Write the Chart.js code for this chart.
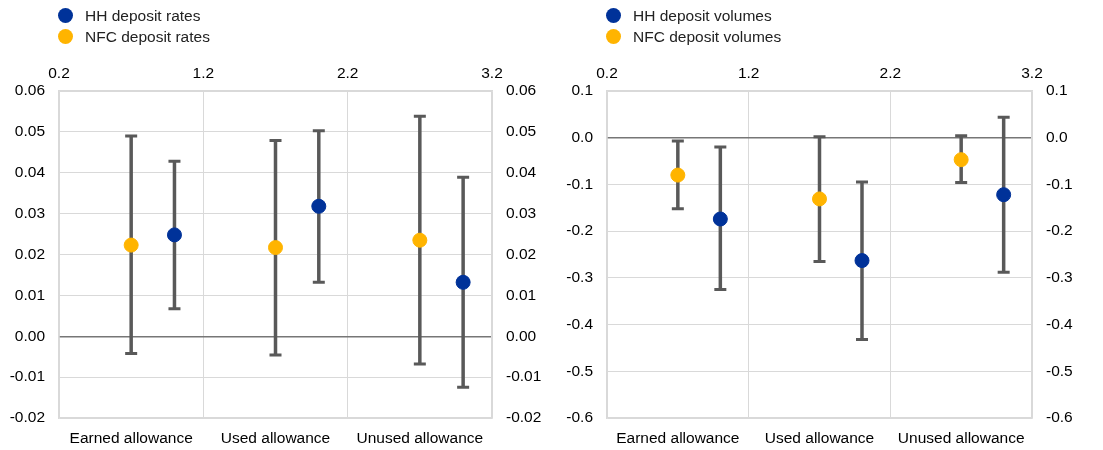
<!DOCTYPE html>
<html>
<head>
<meta charset="utf-8">
<script src="https://cdn.jsdelivr.net/npm/chart.js@4/dist/chart.umd.min.js"></script>
<style>
  body { margin: 0; background: #fff; font-family: "Liberation Sans", Arial, sans-serif; }
  .wrap { position: absolute; top: 0; height: 450px; }
  .legend { position: absolute; top: 5px; font-size: 15.5px; color: #222; }
  .legend div { height: 21px; line-height: 21px; position: relative; padding-left: 27px; }
  .legend span.dot { position: absolute; left: 0; top: 3px; width: 15px; height: 15px; border-radius: 50%; }
</style>
</head>
<body>
<div class="wrap" style="left:0;width:550px">
  <canvas id="chartRates"></canvas>
</div>
<div class="legend" style="left:58px" id="legRates"></div>
<div class="wrap" style="left:550px;width:553px">
  <canvas id="chartVolumes"></canvas>
</div>
<div class="legend" style="left:606px" id="legVolumes"></div>
<script>
// categories and positions on the top (numeric) axis
const categories = ["Earned allowance", "Used allowance", "Unused allowance"];
const hhX = [1.0, 2.0, 3.0];
const nfcX = [0.7, 1.7, 2.7];

// left panel: deposit rates
const hhRate = [0.0248, 0.0318, 0.0132];
const hhRateLow = [0.0067, 0.0132, -0.0125];
const hhRateHigh = [0.0428, 0.0503, 0.0389];
const nfcRate = [0.0223, 0.0217, 0.0235];
const nfcRateLow = [-0.0042, -0.0046, -0.0068];
const nfcRateHigh = [0.0490, 0.0479, 0.0538];

// right panel: deposit volumes
const hhVol = [-0.174, -0.263, -0.122];
const hhVolLow = [-0.325, -0.432, -0.288];
const hhVolHigh = [-0.020, -0.095, 0.044];
const nfcVol = [-0.080, -0.131, -0.047];
const nfcVolLow = [-0.152, -0.265, -0.096];
const nfcVolHigh = [-0.007, 0.002, 0.004];

const BLUE = "#003299";
const YELLOW = "#FFB400";
const BAR = "#595959";
const GRID = "#d9d9d9";

// draws the error bars behind the points
const errorBars = {
    id: "errorBars",
    beforeDatasetsDraw(chart) {
        const ctx = chart.ctx;
        const xs = chart.scales.x;
        const ys = chart.scales.y;
        ctx.save();
        ctx.strokeStyle = BAR;
        chart.data.datasets.forEach(function (ds) {
            ds.data.forEach(function (p, i) {
                const px = xs.getPixelForValue(p.x);
                const yl = ys.getPixelForValue(ds.errLow[i]);
                const yh = ys.getPixelForValue(ds.errHigh[i]);
                ctx.lineWidth = 3.5;
                ctx.beginPath();
                ctx.moveTo(px, yl);
                ctx.lineTo(px, yh);
                ctx.stroke();
                ctx.lineWidth = 3;
                ctx.beginPath();
                ctx.moveTo(px - 6, yl);
                ctx.lineTo(px + 6, yl);
                ctx.moveTo(px - 6, yh);
                ctx.lineTo(px + 6, yh);
                ctx.stroke();
            });
        });
        ctx.restore();
    }
};

function pts(xv, yv) {
    return xv.map((x, i) => ({ x: x, y: yv[i] }));
}

function makeLegend(id, names) {
    const colors = [BLUE, YELLOW];
    document.getElementById(id).innerHTML = names.map((n, i) =>
        '<div><span class="dot" style="background:' + colors[i] + '"></span>' + n + '</div>'
    ).join("");
}

function makeChart(canvasId, hh, hhL, hhH, nfc, nfcL, nfcH, yMin, yMax, step, dec, leftW, rightW) {
    const font = { family: "'Liberation Sans', Arial, sans-serif", size: 15.5 };
    const fmt = v => (Math.abs(v) < 1e-9 ? 0 : v).toFixed(dec);
    return new Chart(document.getElementById(canvasId), {
        type: "scatter",
        data: {
            datasets: [{
                label: "HH",
                data: pts(hhX, hh),
                errLow: hhL,
                errHigh: hhH,
                backgroundColor: BLUE,
                borderColor: BLUE,
                pointRadius: 7,
                pointHoverRadius: 7
            }, {
                label: "NFC",
                data: pts(nfcX, nfc),
                errLow: nfcL,
                errHigh: nfcH,
                backgroundColor: YELLOW,
                borderColor: YELLOW,
                pointRadius: 7,
                pointHoverRadius: 7
            }]
        },
        options: {
            responsive: true,
            maintainAspectRatio: false,
            animation: false,
            layout: { padding: { top: 60, left: 0, right: 0, bottom: 0 } },
            plugins: { legend: { display: false }, tooltip: { enabled: false } },
            scales: {
                x: {
                    type: "linear",
                    position: "top",
                    min: 0.2,
                    max: 3.2,
                    ticks: { stepSize: 1, color: "#000", font: font, padding: 8,
                        callback: v => v.toFixed(1) },
                    grid: { color: GRID, drawTicks: false, lineWidth: 1 },
                    border: { color: GRID, width: 1.5 },
                    afterFit: s => { s.height = 31; }
                },
                xb: {
                    type: "category",
                    position: "bottom",
                    labels: categories,
                    offset: true,
                    ticks: { color: "#000", font: font, padding: 11 },
                    grid: { display: false, drawTicks: false },
                    border: { color: GRID, width: 1.5 },
                    afterFit: s => { s.height = 32; }
                },
                y: {
                    position: "left",
                    min: yMin,
                    max: yMax,
                    ticks: { stepSize: step, color: "#000", font: font, padding: 14, callback: fmt },
                    grid: {
                        drawTicks: false,
                        color: c => (Math.abs(c.tick.value) < 1e-9 ? "#767676" : GRID),
                        lineWidth: c => (Math.abs(c.tick.value) < 1e-9 ? 1.5 : 1)
                    },
                    border: { color: GRID, width: 1.5 },
                    afterFit: s => { s.width = leftW; }
                },
                y2: {
                    position: "right",
                    min: yMin,
                    max: yMax,
                    ticks: { stepSize: step, color: "#000", font: font, padding: 14, callback: fmt },
                    grid: { display: false, drawTicks: false },
                    border: { color: GRID, width: 1.5 },
                    afterFit: s => { s.width = rightW; }
                }
            }
        },
        plugins: [errorBars]
    });
}

makeLegend("legRates", ["HH deposit rates", "NFC deposit rates"]);
makeLegend("legVolumes", ["HH deposit volumes", "NFC deposit volumes"]);

makeChart("chartRates", hhRate, hhRateLow, hhRateHigh, nfcRate, nfcRateLow, nfcRateHigh,
    -0.02, 0.06, 0.01, 2, 59, 58);
makeChart("chartVolumes", hhVol, hhVolLow, hhVolHigh, nfcVol, nfcVolLow, nfcVolHigh,
    -0.6, 0.1, 0.1, 1, 57, 71);
</script>
</body>
</html>
